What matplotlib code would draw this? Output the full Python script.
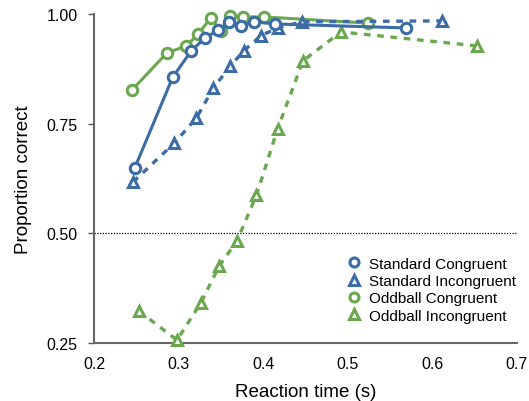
import numpy as np
import matplotlib.pyplot as plt
from matplotlib.lines import Line2D

plt.rcParams['font.family'] = ['Liberation Sans', 'DejaVu Sans']

blue = '#3b6ca6'
green = '#6aa84f'

# Standard Congruent
sc_rt = [0.248, 0.293, 0.315, 0.331, 0.347, 0.360, 0.374, 0.389, 0.414, 0.569]
sc_pc = [0.649, 0.856, 0.916, 0.945, 0.963, 0.982, 0.973, 0.982, 0.977, 0.968]

# Standard Incongruent
si_rt = [0.246, 0.295, 0.321, 0.341, 0.361, 0.377, 0.397, 0.417, 0.446, 0.611]
si_pc = [0.617, 0.706, 0.763, 0.831, 0.881, 0.916, 0.950, 0.968, 0.982, 0.984]

# Oddball Congruent
oc_rt = [0.245, 0.286, 0.309, 0.323, 0.338, 0.350, 0.361, 0.376, 0.401, 0.524]
oc_pc = [0.827, 0.911, 0.927, 0.954, 0.991, 0.961, 0.995, 0.993, 0.993, 0.979]

# Oddball Incongruent
oi_rt = [0.253, 0.298, 0.326, 0.348, 0.369, 0.392, 0.417, 0.447, 0.492, 0.653]
oi_pc = [0.323, 0.257, 0.341, 0.426, 0.483, 0.587, 0.738, 0.893, 0.959, 0.927]

fig = plt.figure(figsize=(5.29, 4.02), dpi=100)
ax = fig.add_axes([0.178, 0.144, 0.799, 0.819])

ax.axhline(0.5, color='black', lw=0.9, ls=(0, (1, 1.2)), zorder=1)

mk = dict(ms=7.5, mew=2.2, mfc='white', clip_on=False, zorder=3)
ax.plot(oc_rt, oc_pc, '-', color=green, marker='o', lw=2.2, label='Oddball Congruent', **mk)
ax.plot(oi_rt, oi_pc, color=green, marker='^', lw=2.4, ls=(0, (2.0, 2.0)), label='Oddball Incongruent', **mk)
ax.plot(si_rt, si_pc, color=blue, marker='^', lw=2.4, ls=(0, (2.0, 2.0)), label='Standard Incongruent', **mk)
ax.plot(sc_rt, sc_pc, '-', color=blue, marker='o', lw=2.2, label='Standard Congruent', **mk)

ax.set_xlim(0.2, 0.7)
ax.set_ylim(0.25, 1.0)
ax.set_xticks([0.2, 0.3, 0.4, 0.5, 0.6, 0.7])
ax.set_xticklabels(['0.2', '0.3', '0.4', '0.5', '0.6', '0.7'])
ax.set_yticks([0.25, 0.5, 0.75, 1.0])
ax.set_yticklabels(['0.25', '0.50', '0.75', '1.00'])
ax.tick_params(axis='x', length=0, pad=9, labelsize=11.5)
ax.tick_params(axis='y', length=4, width=1, color='#555555', pad=8, labelsize=11.5)
for s in ['top', 'right']:
    ax.spines[s].set_visible(False)
for s in ['left', 'bottom']:
    ax.spines[s].set_color('#666666')
    ax.spines[s].set_linewidth(1.5)

ax.set_xlabel('Reaction time (s)', fontsize=13.5, labelpad=9)
ax.set_ylabel('Proportion correct', fontsize=13.5, labelpad=10)

h, l = ax.get_legend_handles_labels()
order = [3, 2, 0, 1]
handles = []
for i in order:
    ln = h[i]
    handles.append(Line2D([], [], ls='none', marker=ln.get_marker(), color=ln.get_color(),
                          mfc='white', mew=2.2, ms=6.5))
ax.legend(handles, [l[i] for i in order], loc='lower right', frameon=False,
          fontsize=11, handletextpad=0.35, labelspacing=0.22, handlelength=1.2,
          bbox_to_anchor=(1.03, 0.02))

fig.savefig('out.png', dpi=100)
